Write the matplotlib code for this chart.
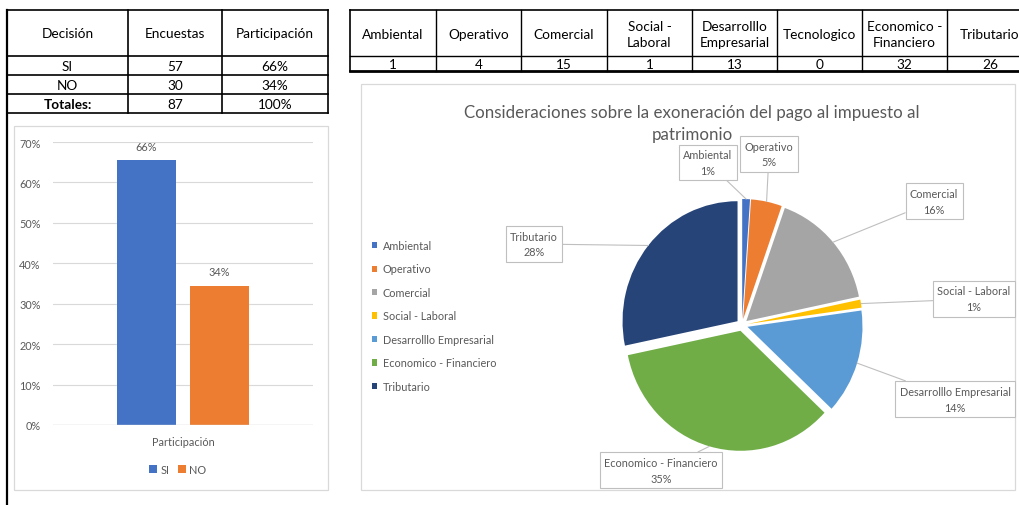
import numpy as np
import matplotlib
matplotlib.use("Agg")
import matplotlib.pyplot as plt
from matplotlib.patches import Rectangle

plt.rcParams['font.family'] = ['Lato', 'DejaVu Sans']

# --- datos tabla decision / grafico de barras
decision = ['SI', 'NO']
encuestas = [57, 30]
participacion_txt = ['66%', '34%']
total_encuestas = 87
total_txt = '100%'
participacion = [0.655, 0.345]
bar_colors = ['#4472C4', '#ED7D31']

# --- datos tabla de categorias
categorias = ['Ambiental', 'Operativo', 'Comercial', 'Social -\nLaboral',
              'Desarrolllo\nEmpresarial', 'Tecnologico', 'Economico -\nFinanciero', 'Tributario']
conteos = [1, 4, 15, 1, 13, 0, 32, 26]

# --- datos grafico de torta (sin Tecnologico)
pie_labels = ['Ambiental', 'Operativo', 'Comercial', 'Social - Laboral',
              'Desarrolllo Empresarial', 'Economico - Financiero', 'Tributario']
pie_values = [1, 4, 15, 1, 13, 32, 26]
pie_pct = ['1%', '5%', '16%', '1%', '14%', '35%', '28%']
pie_colors = ['#4472C4', '#ED7D31', '#A5A5A5', '#FFC000', '#5B9BD5', '#70AD47', '#264478']

TXT = '#595959'
GRID = '#D9D9D9'
W, H = 1019, 506

fig = plt.figure(figsize=(W / 100, H / 100), dpi=100)

# capa en pixeles para tablas y bordes
ov = fig.add_axes([0, 0, 1, 1])
ov.set_xlim(0, W)
ov.set_ylim(H, 0)
ov.axis('off')

# tabla izquierda
col_x = [7, 128, 222, 328]
row_y = [11, 57, 76, 95, 114]
for y in row_y:
    ov.plot([col_x[0], col_x[-1]], [y, y], color='black', lw=1.2)
for x in col_x:
    ov.plot([x, x], [row_y[0], row_y[-1]], color='black', lw=1.2)
ov.plot([7, 7], [11, H], color='black', lw=1.6)

rows = [['Decisión', 'Encuestas', 'Participación']]
for d, e, p in zip(decision, encuestas, participacion_txt):
    rows.append([d, str(e), p])
rows.append(['Totales:', str(total_encuestas), total_txt])
for r, fila in enumerate(rows):
    yc = (row_y[r] + row_y[r + 1]) / 2
    for c, t in enumerate(fila):
        xc = (col_x[c] + col_x[c + 1]) / 2
        ov.text(xc, yc, t, ha='center', va='center', fontsize=9.8,
                fontweight='bold' if (r == len(rows) - 1 and c == 0) else 'normal')

# tabla derecha
rcol_x = [350, 436, 521, 607, 692, 777, 862, 947, 1033]
rrow_y = [11, 57, 72]
ov.plot([rcol_x[0], W], [rrow_y[0]] * 2, color='black', lw=1.2)
ov.plot([rcol_x[0], W], [rrow_y[1]] * 2, color='black', lw=1.0)
ov.plot([rcol_x[0], W], [rrow_y[2]] * 2, color='black', lw=2.0)
for x in rcol_x[:-1]:
    ov.plot([x, x], [rrow_y[0], rrow_y[-1]], color='black', lw=1.2 if x == rcol_x[0] else 1.0)
for c, (cat, n) in enumerate(zip(categorias, conteos)):
    xc = (rcol_x[c] + rcol_x[c + 1]) / 2
    ov.text(xc, (rrow_y[0] + rrow_y[1]) / 2 + 1, cat, ha='center', va='center',
            fontsize=9.8, linespacing=1.45)
    ov.text(xc, (rrow_y[1] + rrow_y[2]) / 2, str(n), ha='center', va='center', fontsize=9.8)

# bordes de graficos
ov.add_patch(Rectangle((14, 127), 314, 364, fill=False, ec=GRID, lw=0.9))
ov.add_patch(Rectangle((361, 85), 654, 406, fill=False, ec=GRID, lw=0.9))

# --- grafico de barras
axb = fig.add_axes([53 / W, (H - 426) / H, 260 / W, 283 / H])
axb.patch.set_visible(False)
offsets = [-0.14, 0.14]
for i, (lab, v) in enumerate(zip(decision, participacion)):
    axb.bar(offsets[i], v, width=0.225, color=bar_colors[i], label=lab, zorder=2)
    axb.annotate(participacion_txt[i], (offsets[i], v), xytext=(0, 10),
                 textcoords='offset points', ha='center', va='center',
                 fontsize=7.8, color=TXT)
axb.set_xlim(-0.5, 0.5)
axb.set_ylim(0, 0.7)
axb.set_yticks(np.arange(0, 0.71, 0.1))
axb.set_yticklabels([f'{int(round(t * 100))}%' for t in np.arange(0, 0.71, 0.1)])
axb.set_xticks([0])
axb.set_xticklabels(['Participación'])
axb.tick_params(length=0, labelsize=7.8, labelcolor=TXT, pad=8)
axb.tick_params(axis='y', pad=9)
axb.grid(axis='y', color=GRID, lw=0.8, zorder=0)
for s in axb.spines.values():
    s.set_visible(False)
axb.axhline(0, color=GRID, lw=1.0, zorder=3)
axb.legend(loc='center', bbox_to_anchor=(0.48, -0.157), ncol=2, frameon=False,
           fontsize=7.8, labelcolor=TXT, handlelength=0.7, handleheight=0.7,
           handletextpad=0.35, columnspacing=0.8)

# --- grafico de torta
cx, cy = 742, 326
sx, sy = 115, 120
axp = fig.add_axes([361 / W, (H - 491) / H, 654 / W, 406 / H])
axp.patch.set_visible(False)
explode = [0.05] * len(pie_values)
wedges, _ = axp.pie(pie_values, colors=pie_colors, startangle=90, counterclock=False,
                    explode=explode, wedgeprops=dict(linewidth=0))
axp.set_aspect('auto')
axp.set_xlim((361 - cx) / sx, (1015 - cx) / sx)
axp.set_ylim((cy - 491) / sy, (cy - 85) / sy)
axp.axis('off')

# posiciones de las etiquetas (centro de la caja, unidades del radio)
label_pos = [(-0.296, 1.354), (0.235, 1.425), (1.670, 1.033), (2.017, 0.217),
             (1.852, -0.617), (-0.704, -1.21), (-1.809, 0.675)]
total = sum(pie_values)
acc = 0
for i, v in enumerate(pie_values):
    ang = np.deg2rad(90 - 360 * (acc + v / 2) / total)
    acc += v
    edge = ((1 + explode[i]) * np.cos(ang), (1 + explode[i]) * np.sin(ang))
    axp.annotate(f'{pie_labels[i]}\n{pie_pct[i]}', xy=edge, xytext=label_pos[i],
                 ha='center', va='center', fontsize=7.8, color=TXT, linespacing=1.55,
                 bbox=dict(boxstyle='square,pad=0.4', fc='white', ec='#BFBFBF', lw=0.8),
                 arrowprops=dict(arrowstyle='-', color='#BFBFBF', lw=0.8,
                                 shrinkA=0, shrinkB=0))

fig.text(692 / W, 1 - 124 / H,
         'Consideraciones sobre la exoneración del pago al impuesto al\npatrimonio',
         ha='center', va='center', fontsize=12.2, color=TXT, linespacing=1.5)

fig.legend(wedges, pie_labels, loc='upper left', bbox_to_anchor=(372 / W, 1 - 241 / H),
           frameon=False, fontsize=7.8, labelcolor=TXT, handlelength=0.5, handleheight=0.5,
           handletextpad=0.5, labelspacing=1.15, borderaxespad=0, borderpad=0)

fig.savefig('out.png', dpi=100)
